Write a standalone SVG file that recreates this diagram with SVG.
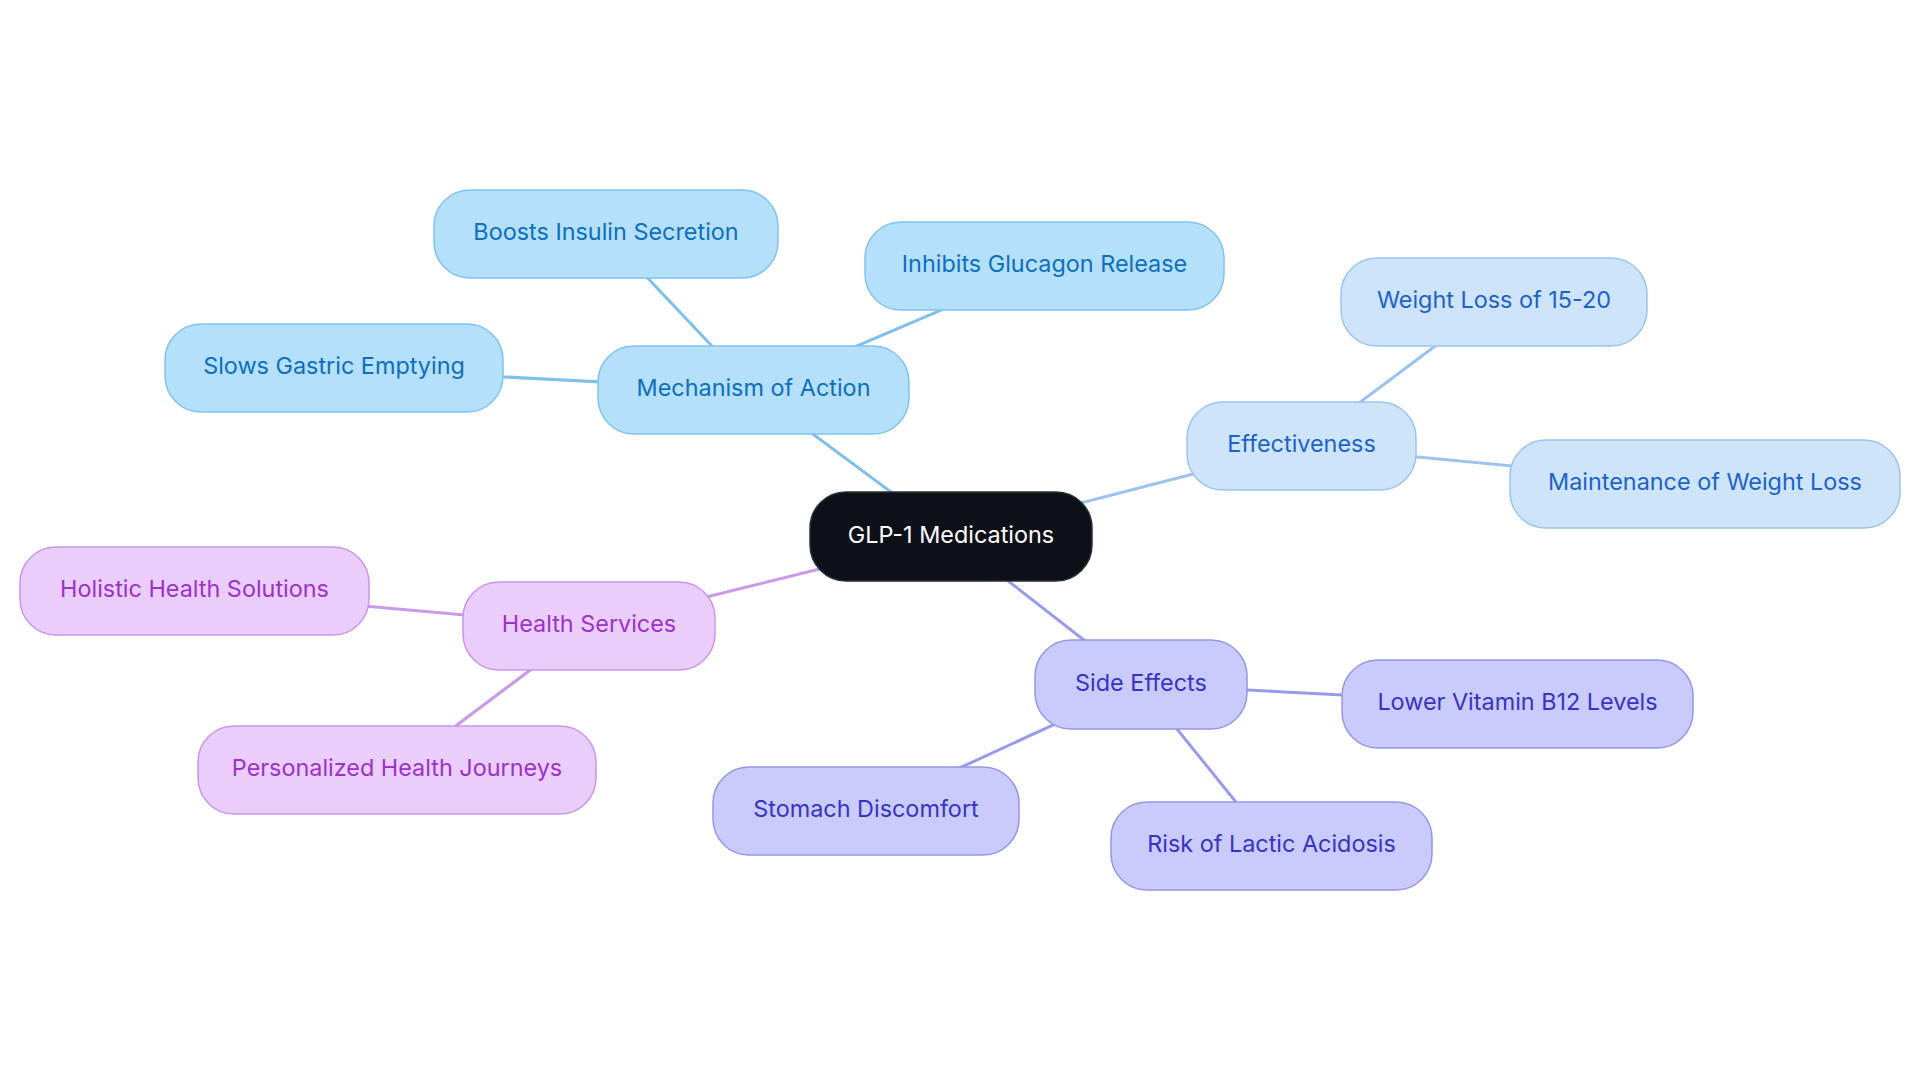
<svg xmlns="http://www.w3.org/2000/svg" width="1920" height="1083" viewBox="0 0 1920 1083">
<style>
  text { font-family: Inter, "Noto Sans", "Liberation Sans", sans-serif; font-size: 23.4px; text-anchor: middle; }
  .edge { fill: none; stroke-width: 3; stroke-linecap: round; }
  .e-mech { stroke: #7fc0ea; }
  .e-eff { stroke: #9cc2ee; }
  .e-side { stroke: #9a9be8; }
  .e-health { stroke: #c99ae9; }
  .n rect { stroke-width: 1.5; }
  .root rect { fill: #0d1117; stroke: #2b3038; }
  .root text { fill: #ffffff; }
  .mech rect { fill: #b4e0fc; stroke: #80c2ee; }
  .mech text { fill: #0e6fba; }
  .eff rect { fill: #cde4fb; stroke: #9cc3ee; }
  .eff text { fill: #1e63c4; }
  .side rect { fill: #c8cbfc; stroke: #9597e6; }
  .side text { fill: #3a33bf; }
  .health rect { fill: #ebcdfc; stroke: #c796ea; }
  .health text { fill: #9a33c6; }
</style>
<rect x="0" y="0" width="1920" height="1083" fill="#ffffff"/>
<g id="connectors">
  <line class="edge e-mech" x1="951" y1="536.5" x2="753.5" y2="390"/>
  <line class="edge e-mech" x1="753.5" y1="390" x2="606" y2="234"/>
  <line class="edge e-mech" x1="753.5" y1="390" x2="334" y2="368"/>
  <line class="edge e-mech" x1="753.5" y1="390" x2="1044.5" y2="266"/>
  <line class="edge e-eff" x1="951" y1="536.5" x2="1301.5" y2="446"/>
  <line class="edge e-eff" x1="1301.5" y1="446" x2="1494" y2="302"/>
  <line class="edge e-eff" x1="1301.5" y1="446" x2="1705" y2="484"/>
  <line class="edge e-health" x1="951" y1="536.5" x2="589" y2="626"/>
  <line class="edge e-health" x1="589" y1="626" x2="194.5" y2="591"/>
  <line class="edge e-health" x1="589" y1="626" x2="397" y2="770"/>
  <line class="edge e-side" x1="951" y1="536.5" x2="1141" y2="684.5"/>
  <line class="edge e-side" x1="1141" y1="684.5" x2="1517.5" y2="704"/>
  <line class="edge e-side" x1="1141" y1="684.5" x2="866" y2="811"/>
  <line class="edge e-side" x1="1141" y1="684.5" x2="1271.5" y2="846"/>
</g>
<g id="node-root" class="n root">
  <rect x="810" y="492" width="282" height="89" rx="36"/>
  <text x="951" y="543">GLP-1 Medications</text>
</g>
<g id="node-mechanism" class="n mech">
  <rect x="598" y="346" width="311" height="88" rx="36"/>
  <text x="753.5" y="396">Mechanism of Action</text>
</g>
<g id="node-boosts" class="n mech">
  <rect x="434" y="190" width="344" height="88" rx="36"/>
  <text x="606" y="240">Boosts Insulin Secretion</text>
</g>
<g id="node-slows" class="n mech">
  <rect x="165" y="324" width="338" height="88" rx="36"/>
  <text x="334" y="374">Slows Gastric Emptying</text>
</g>
<g id="node-inhibits" class="n mech">
  <rect x="865" y="222" width="359" height="88" rx="36"/>
  <text x="1044.5" y="272">Inhibits Glucagon Release</text>
</g>
<g id="node-effectiveness" class="n eff">
  <rect x="1187" y="402" width="229" height="88" rx="36"/>
  <text x="1301.5" y="452">Effectiveness</text>
</g>
<g id="node-weightloss" class="n eff">
  <rect x="1341" y="258" width="306" height="88" rx="36"/>
  <text x="1494" y="308">Weight Loss of 15-20</text>
</g>
<g id="node-maintenance" class="n eff">
  <rect x="1510" y="440" width="390" height="88" rx="36"/>
  <text x="1705" y="490">Maintenance of Weight Loss</text>
</g>
<g id="node-health" class="n health">
  <rect x="463" y="582" width="252" height="88" rx="36"/>
  <text x="589" y="632">Health Services</text>
</g>
<g id="node-holistic" class="n health">
  <rect x="20" y="547" width="349" height="88" rx="36"/>
  <text x="194.5" y="597">Holistic Health Solutions</text>
</g>
<g id="node-personalized" class="n health">
  <rect x="198" y="726" width="398" height="88" rx="36"/>
  <text x="397" y="776">Personalized Health Journeys</text>
</g>
<g id="node-side" class="n side">
  <rect x="1035" y="640" width="212" height="89" rx="36"/>
  <text x="1141" y="690.5">Side Effects</text>
</g>
<g id="node-b12" class="n side">
  <rect x="1342" y="660" width="351" height="88" rx="36"/>
  <text x="1517.5" y="710">Lower Vitamin B12 Levels</text>
</g>
<g id="node-stomach" class="n side">
  <rect x="713" y="767" width="306" height="88" rx="36"/>
  <text x="866" y="817">Stomach Discomfort</text>
</g>
<g id="node-lactic" class="n side">
  <rect x="1111" y="802" width="321" height="88" rx="36"/>
  <text x="1271.5" y="852">Risk of Lactic Acidosis</text>
</g>
</svg>
